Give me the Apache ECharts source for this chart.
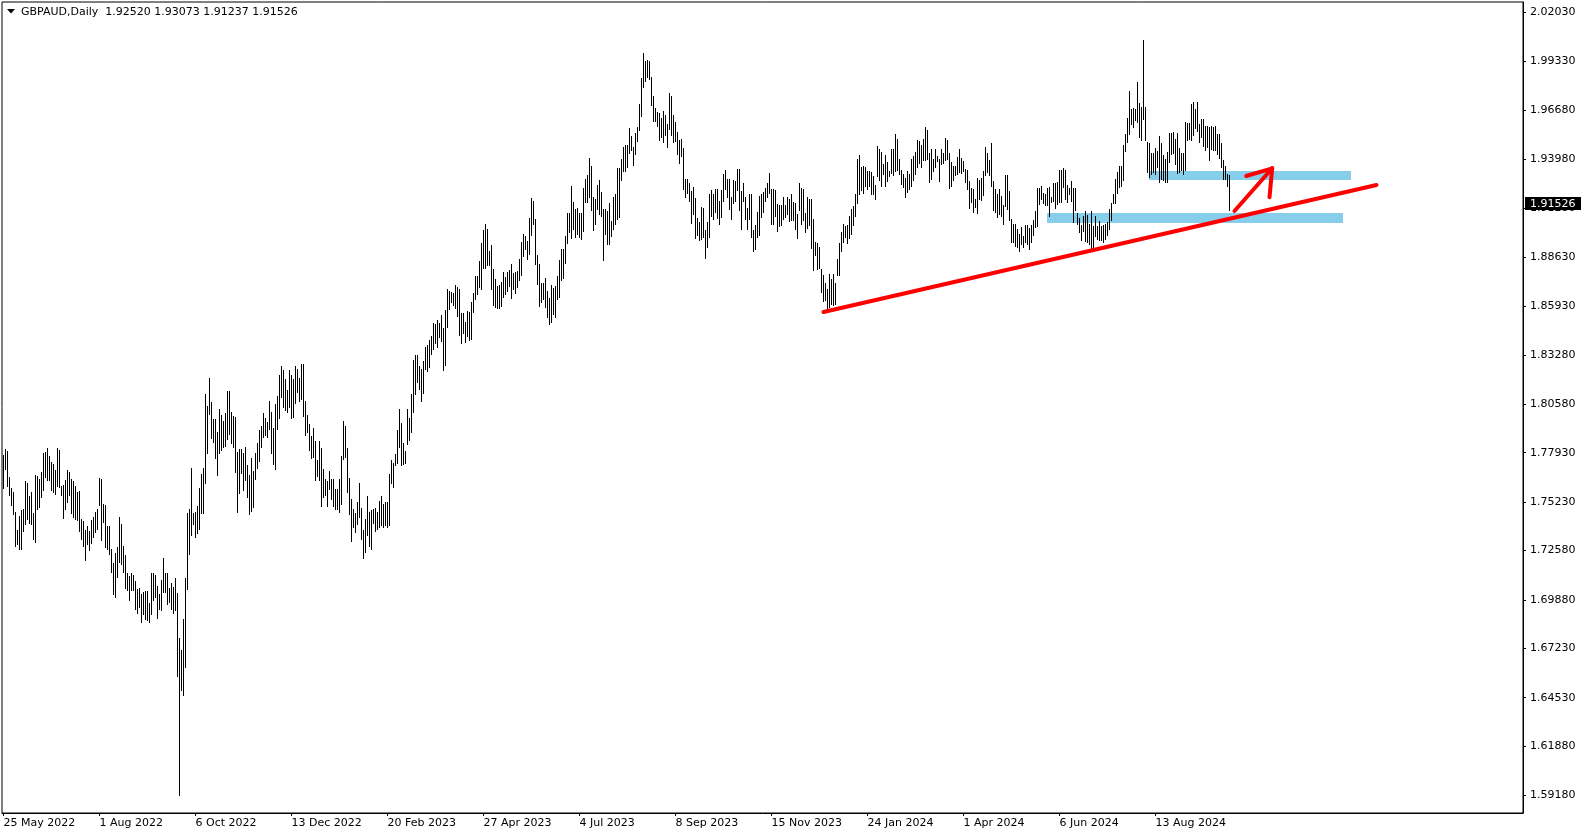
<!DOCTYPE html>
<html><head><meta charset="utf-8">
<script src="https://cdn.jsdelivr.net/npm/echarts@6/dist/echarts.min.js"></script>
<style>html,body{margin:0;padding:0;background:#fff}#c{width:1587px;height:838px}</style>
</head><body><div id="c"></div>
<script>
// ---------- data ----------
const symbolName = 'GBPAUD';
const timeframe = 'Daily';
const lastBar = [1.92520, 1.93073, 1.91237, 1.91526]; // open high low close of the latest bar

const dateTickBars = [0, 48, 96, 144, 192, 240, 288, 336, 384, 432, 480, 528, 576];
const dateTickLabels = ['25 May 2022', '1 Aug 2022', '6 Oct 2022', '13 Dec 2022', '20 Feb 2023', '27 Apr 2023',
  '4 Jul 2023', '8 Sep 2023', '15 Nov 2023', '24 Jan 2024', '1 Apr 2024', '6 Jun 2024', '13 Aug 2024'];
const priceTicks = [2.02030, 1.99330, 1.96680, 1.93980, 1.91280, 1.88630, 1.85930, 1.83280, 1.80580,
  1.77930, 1.75230, 1.72580, 1.69880, 1.67230, 1.64530, 1.61880, 1.59180];

// daily highs, bar 0 = 25 May 2022
const barHigh = [
1.7775,1.7808,1.7797,1.7657,1.7595,1.7575,1.7465,1.7367,1.7443,1.7476,
1.7480,1.7635,1.7622,1.7553,1.7575,1.7458,1.7666,1.7662,1.7647,1.7684,
1.7786,1.7793,1.7817,1.7771,1.7742,1.7726,1.7698,1.7817,1.7804,1.7607,
1.7611,1.7640,1.7695,1.7684,1.7647,1.7635,1.7607,1.7575,1.7580,1.7429,
1.7416,1.7370,1.7389,1.7361,1.7421,1.7440,1.7465,1.7480,1.7653,1.7644,
1.7507,1.7502,1.7389,1.7389,1.7261,1.7188,1.7239,1.7276,1.7438,1.7398,
1.7279,1.7228,1.7133,1.7115,1.7133,1.7124,1.7088,1.7046,1.7051,1.7015,
1.7028,1.7033,1.7033,1.6969,1.7133,1.7130,1.7119,1.7060,1.7015,1.7093,
1.7215,1.7133,1.7133,1.7051,1.7075,1.7057,1.7106,1.7024,1.6778,1.6709,
1.6878,1.7106,1.7461,1.7483,1.7708,1.7461,1.7465,1.7498,1.7595,1.7671,
1.7708,1.8109,1.8045,1.8200,1.8067,1.7976,1.7976,1.7903,1.8027,1.7999,
1.7966,1.8005,1.8130,1.8130,1.8012,1.7990,1.7986,1.7793,1.7811,1.7811,
1.7786,1.7822,1.7724,1.7666,1.7759,1.7689,1.7790,1.7841,1.7914,1.7935,
1.8005,1.7981,1.7957,1.8072,1.8012,1.7926,1.8054,1.8103,1.8213,1.8264,
1.8245,1.8194,1.8131,1.8240,1.8213,1.8194,1.8264,1.8249,1.8200,1.8278,
1.8273,1.8072,1.7999,1.7945,1.7881,1.7926,1.7853,1.7750,1.7853,1.7817,
1.7702,1.7647,1.7635,1.7689,1.7644,1.7644,1.7589,1.7589,1.7647,1.7771,
1.7966,1.7935,1.7817,1.7653,1.7538,1.7480,1.7461,1.7520,1.7626,1.7489,
1.7370,1.7425,1.7553,1.7467,1.7476,1.7483,1.7489,1.7465,1.7525,1.7556,
1.7507,1.7520,1.7520,1.7675,1.7753,1.7735,1.7784,1.7913,1.8030,1.7950,
1.7841,1.7799,1.8027,1.7981,1.8109,1.8300,1.8322,1.8322,1.8264,1.8246,
1.8291,1.8368,1.8377,1.8404,1.8428,1.8497,1.8492,1.8515,1.8497,1.8541,
1.8473,1.8570,1.8683,1.8674,1.8668,1.8665,1.8705,1.8698,1.8683,1.8555,
1.8552,1.8504,1.8568,1.8559,1.8614,1.8665,1.8756,1.8756,1.8838,1.8935,
1.9011,1.9039,1.9015,1.8893,1.8929,1.8796,1.8743,1.8701,1.8705,1.8723,
1.8778,1.8752,1.8778,1.8789,1.8825,1.8771,1.8778,1.8783,1.8847,1.8942,
1.8984,1.8975,1.8947,1.9075,1.9184,1.9166,1.9069,1.8874,1.8820,1.8720,
1.8720,1.8747,1.8674,1.8638,1.8705,1.8692,1.8701,1.8756,1.8844,1.8902,
1.8902,1.8975,1.9102,1.9102,1.9248,1.9163,1.9121,1.9130,1.9102,1.9099,
1.9239,1.9285,1.9307,1.9403,1.9361,1.9188,1.9179,1.9257,1.9281,1.9216,
1.9121,1.9121,1.9112,1.9157,1.9057,1.9188,1.9203,1.9349,1.9349,1.9394,
1.9463,1.9471,1.9476,1.9567,1.9522,1.9463,1.9540,1.9573,1.9700,1.9840,
1.9974,1.9932,1.9936,1.9932,1.9846,1.9740,1.9677,1.9653,1.9646,1.9622,
1.9658,1.9635,1.9586,1.9755,1.9744,1.9640,1.9598,1.9545,1.9503,1.9507,
1.9458,1.9288,1.9285,1.9263,1.9221,1.9245,1.9184,1.9075,1.9051,1.9135,
1.9130,1.9008,1.9051,1.9208,1.9226,1.9203,1.9230,1.9234,1.9166,1.9226,
1.9312,1.9334,1.9285,1.9285,1.9190,1.9281,1.9279,1.9343,1.9343,1.9221,
1.9266,1.9190,1.9130,1.9203,1.9206,1.9006,1.9033,1.9106,1.9194,1.9203,
1.9215,1.9239,1.9263,1.9321,1.9230,1.9230,1.9226,1.9148,1.9143,1.9143,
1.9190,1.9143,1.9190,1.9179,1.9203,1.9161,1.9157,1.9097,1.9266,1.9239,
1.9234,1.9102,1.9190,1.9179,1.9179,1.9070,1.8942,1.8938,1.8916,1.8796,
1.8760,1.8720,1.8687,1.8765,1.8738,1.8765,1.8716,1.8851,1.8935,1.8997,
1.9039,1.9029,1.9033,1.9084,1.9121,1.9139,1.9208,1.9398,1.9421,1.9354,
1.9358,1.9354,1.9330,1.9330,1.9325,1.9303,1.9257,1.9467,1.9452,1.9434,
1.9367,1.9421,1.9380,1.9330,1.9452,1.9449,1.9536,1.9507,1.9394,1.9339,
1.9312,1.9294,1.9330,1.9312,1.9394,1.9412,1.9434,1.9503,1.9494,1.9471,
1.9507,1.9573,1.9554,1.9427,1.9449,1.9398,1.9449,1.9412,1.9394,1.9449,
1.9427,1.9513,1.9503,1.9431,1.9381,1.9358,1.9361,1.9409,1.9452,1.9403,
1.9385,1.9343,1.9339,1.9276,1.9239,1.9234,1.9179,1.9294,1.9281,1.9294,
1.9330,1.9463,1.9431,1.9390,1.9485,1.9276,1.9234,1.9203,1.9230,1.9194,
1.9143,1.9307,1.9307,1.9221,1.9070,1.9039,1.9039,1.9015,1.8989,1.9026,
1.8975,1.9033,1.9033,1.9020,1.9033,1.9062,1.9112,1.9239,1.9239,1.9248,
1.9212,1.9203,1.9239,1.9245,1.9190,1.9263,1.9263,1.9270,1.9339,1.9336,
1.9349,1.9336,1.9252,1.9239,1.9276,1.9239,1.9239,1.9102,1.9075,1.9033,
1.9084,1.9112,1.9093,1.9039,1.9112,1.9030,1.9084,1.9030,1.9057,1.9030,
1.9033,1.9039,1.9051,1.9121,1.9154,1.9208,1.9285,1.9325,1.9358,1.9361,
1.9476,1.9531,1.9622,1.9768,1.9671,1.9677,1.9668,1.9817,1.9704,1.9682,
2.0045,1.9682,1.9489,1.9485,1.9431,1.9427,1.9458,1.9440,1.9525,1.9482,
1.9416,1.9398,1.9434,1.9540,1.9540,1.9544,1.9504,1.9540,1.9458,1.9431,
1.9427,1.9598,1.9591,1.9591,1.9700,1.9708,1.9671,1.9708,1.9586,1.9613,
1.9613,1.9576,1.9576,1.9573,1.9576,1.9573,1.9576,1.9536,1.9536,1.9485,
1.9391,1.9361,1.9312,1.93073
];

// daily lows, same bars
const barLow = [
1.7604,1.7708,1.7611,1.7562,1.7507,1.7461,1.7288,1.7297,1.7270,1.7270,
1.7370,1.7407,1.7434,1.7410,1.7407,1.7325,1.7307,1.7489,1.7498,1.7553,
1.7589,1.7662,1.7647,1.7644,1.7589,1.7580,1.7571,1.7611,1.7607,1.7562,
1.7438,1.7489,1.7525,1.7562,1.7465,1.7443,1.7434,1.7425,1.7370,1.7325,
1.7288,1.7210,1.7297,1.7261,1.7301,1.7334,1.7361,1.7379,1.7507,1.7316,
1.7416,1.7279,1.7270,1.7243,1.7142,1.7024,1.7009,1.7115,1.7197,1.7188,
1.7142,1.7057,1.7042,1.6988,1.7042,1.7046,1.6942,1.6918,1.6951,1.6869,
1.6915,1.6887,1.6878,1.6869,1.6915,1.6991,1.7006,1.6893,1.6942,1.6936,
1.7033,1.7033,1.6969,1.6978,1.6942,1.6920,1.6933,1.6577,1.5921,1.6495,
1.6472,1.6623,1.7051,1.7243,1.7348,1.7403,1.7334,1.7356,1.7379,1.7465,
1.7465,1.7629,1.7793,1.8008,1.7875,1.7853,1.7766,1.7675,1.7793,1.7811,
1.7826,1.7830,1.7872,1.7899,1.7848,1.7826,1.7689,1.7474,1.7574,1.7684,
1.7593,1.7647,1.7556,1.7458,1.7476,1.7498,1.7653,1.7711,1.7753,1.7826,
1.7881,1.7890,1.7881,1.7926,1.7793,1.7735,1.7708,1.7926,1.7987,1.8100,
1.8045,1.8027,1.8018,1.8045,1.7987,1.7990,1.8067,1.8127,1.8081,1.8090,
1.7999,1.7890,1.7908,1.7808,1.7768,1.7771,1.7644,1.7666,1.7644,1.7503,
1.7553,1.7567,1.7503,1.7598,1.7544,1.7503,1.7489,1.7489,1.7471,1.7516,
1.7762,1.7771,1.7580,1.7461,1.7312,1.7389,1.7361,1.7403,1.7443,1.7325,
1.7221,1.7252,1.7348,1.7283,1.7270,1.7410,1.7367,1.7379,1.7392,1.7398,
1.7392,1.7401,1.7392,1.7398,1.7629,1.7607,1.7731,1.7738,1.7826,1.7731,
1.7735,1.7740,1.7841,1.7866,1.7908,1.8018,1.8118,1.8182,1.8145,1.8081,
1.8123,1.8255,1.8242,1.8267,1.8337,1.8364,1.8395,1.8373,1.8431,1.8406,
1.8249,1.8273,1.8483,1.8583,1.8619,1.8606,1.8586,1.8541,1.8437,1.8397,
1.8452,1.8400,1.8433,1.8413,1.8419,1.8565,1.8637,1.8665,1.8701,1.8692,
1.8807,1.8807,1.8820,1.8820,1.8692,1.8606,1.8592,1.8588,1.8588,1.8596,
1.8650,1.8665,1.8678,1.8705,1.8641,1.8692,1.8668,1.8701,1.8738,1.8765,
1.8874,1.8911,1.8856,1.8884,1.8984,1.9048,1.8829,1.8720,1.8596,1.8619,
1.8638,1.8592,1.8537,1.8501,1.8510,1.8556,1.8537,1.8638,1.8650,1.8742,
1.8752,1.8833,1.8942,1.9002,1.8971,1.9020,1.8975,1.8993,1.8975,1.8966,
1.9011,1.9166,1.9166,1.9194,1.9121,1.9015,1.9048,1.9130,1.9102,1.9088,
1.8851,1.8993,1.8938,1.8935,1.8979,1.9020,1.9048,1.9075,1.9084,1.9288,
1.9339,1.9336,1.9361,1.9434,1.9453,1.9372,1.9431,1.9498,1.9560,1.9640,
1.9795,1.9828,1.9850,1.9841,1.9700,1.9609,1.9609,1.9580,1.9504,1.9525,
1.9494,1.9536,1.9467,1.9567,1.9535,1.9494,1.9500,1.9427,1.9380,1.9421,
1.9239,1.9197,1.9215,1.9175,1.9051,1.9099,1.8971,1.8984,1.8960,1.8966,
1.8978,1.8862,1.8920,1.8978,1.9093,1.9075,1.9112,1.9081,1.9044,1.9084,
1.9172,1.9239,1.9197,1.9130,1.9075,1.9161,1.9175,1.9234,1.9121,1.9020,
1.9172,1.9075,1.9020,1.9075,1.8978,1.8898,1.8911,1.8975,1.8984,1.9084,
1.9112,1.9175,1.9194,1.9215,1.9044,1.9044,1.9093,1.9011,1.9033,1.9039,
1.9075,1.9084,1.9102,1.9062,1.9066,1.9070,1.9020,1.8971,1.9121,1.9048,
1.9066,1.9002,1.9026,1.9039,1.8916,1.8796,1.8875,1.8802,1.8807,1.8674,
1.8625,1.8632,1.8588,1.8592,1.8607,1.8601,1.8610,1.8765,1.8765,1.8898,
1.8947,1.8978,1.8942,1.8971,1.8993,1.9039,1.9093,1.9161,1.9212,1.9234,
1.9215,1.9252,1.9239,1.9252,1.9212,1.9212,1.9184,1.9307,1.9285,1.9257,
1.9321,1.9257,1.9281,1.9307,1.9325,1.9312,1.9339,1.9343,1.9318,1.9266,
1.9248,1.9197,1.9221,1.9239,1.9257,1.9285,1.9321,1.9358,1.9380,1.9358,
1.9398,1.9394,1.9403,1.9276,1.9294,1.9336,1.9361,1.9390,1.9281,1.9376,
1.9380,1.9394,1.9403,1.9245,1.9257,1.9288,1.9312,1.9321,1.9330,1.9325,
1.9339,1.9276,1.9239,1.9135,1.9166,1.9112,1.9139,1.9106,1.9184,1.9179,
1.9203,1.9312,1.9330,1.9316,1.9257,1.9121,1.9112,1.9084,1.9102,1.9093,
1.9044,1.9143,1.9130,1.9070,1.8947,1.8947,1.8929,1.8920,1.8898,1.8935,
1.8920,1.8947,1.8938,1.8911,1.8947,1.8984,1.9029,1.9033,1.9157,1.9184,
1.9161,1.9148,1.9148,1.9093,1.9166,1.9175,1.9135,1.9157,1.9166,1.9166,
1.9248,1.9184,1.9166,1.9212,1.9175,1.9057,1.9121,1.9048,1.9002,1.8960,
1.9011,1.8953,1.8948,1.8938,1.8902,1.8911,1.8979,1.8966,1.8957,1.8957,
1.8948,1.8966,1.8984,1.9020,1.9070,1.9161,1.9161,1.9216,1.9248,1.9257,
1.9285,1.9445,1.9494,1.9540,1.9595,1.9576,1.9613,1.9604,1.9525,1.9507,
1.9622,1.9507,1.9330,1.9303,1.9321,1.9330,1.9321,1.9358,1.9276,1.9294,
1.9285,1.9276,1.9276,1.9385,1.9431,1.9434,1.9376,1.9325,1.9330,1.9343,
1.9321,1.9343,1.9504,1.9513,1.9504,1.9536,1.9573,1.9558,1.9494,1.9525,
1.9471,1.9453,1.9467,1.9398,1.9458,1.9453,1.9453,1.9431,1.9407,1.9358,
1.9294,1.9294,1.9257,1.91237
];

// drawn objects: [bar index, price]
const trendLine = [[410, 1.85626], [686.5, 1.92573]];
const zoneUpper = [[572.5, 1.93338], [673.5, 1.92846]];
const zoneLower = [[521.5, 1.91041], [669.5, 1.90511]];
const arrowLines = [
  [[615.5, 1.9115], [634.35, 1.93486]],
  [[621.35, 1.93065], [634.35, 1.93486]],
  [[634.35, 1.93486], [633, 1.9190]]
];

// ---------- chart ----------
const FONT = 'DejaVu Sans';
const chart = echarts.init(document.getElementById('c'), null, {renderer: 'canvas', width: 1587, height: 838});
const bars = barHigh.map((h, i) => [i, h, barLow[i]]);
const zones = [zoneUpper, zoneLower].map(z => [z[0][0], z[0][1], z[1][0], z[1][1]]);
const redSegs = [trendLine].concat(arrowLines).map(s => [s[0][0], s[0][1], s[1][0], s[1][1]]);
const titleText = symbolName + ',' + timeframe + '  ' + lastBar.map(v => v.toFixed(5)).join(' ');

chart.setOption({
  animation: false,
  backgroundColor: '#fff',
  textStyle: {fontFamily: FONT},
  grid: {left: 2, top: 2, right: 64, bottom: 25, show: true, borderColor: '#000', borderWidth: 1,
         backgroundColor: '#fff', containLabel: false, outerBoundsMode: 'none'},
  xAxis: {
    type: 'value', min: -0.75, max: 759.75,
    axisLine: {show: true, onZero: false, lineStyle: {color: '#000', width: 1}},
    splitLine: {show: false},
    axisTick: {show: true, length: 3, customValues: dateTickBars, lineStyle: {color: '#000'}},
    axisLabel: {customValues: dateTickBars, align: 'left', margin: 5, color: '#000', fontFamily: FONT, fontSize: 11,
      formatter: v => { const k = dateTickBars.indexOf(Math.round(v)); return k >= 0 ? dateTickLabels[k] : ''; }}
  },
  yAxis: {
    type: 'value', position: 'right', min: 1.58222, max: 2.02582,
    axisLine: {show: true, onZero: false, lineStyle: {color: '#000', width: 1}},
    splitLine: {show: false},
    axisTick: {show: true, length: 3, customValues: priceTicks, lineStyle: {color: '#000'}},
    axisLabel: {customValues: priceTicks, margin: 7, color: '#000', fontFamily: FONT, fontSize: 11,
      formatter: v => v.toFixed(5)}
  },
  graphic: [
    {type: 'polygon', shape: {points: [[7, 9], [15, 9], [11, 13.5]]}, style: {fill: '#000'}, z: 100},
    {type: 'text', x: 21, y: 12, z: 100,
     style: {text: titleText, fontFamily: FONT, fontSize: 11, fill: '#000', verticalAlign: 'middle'}}
  ],
  series: [
    {
      type: 'custom', name: 'zones', z: 1, silent: true,
      data: zones, encode: {x: [0, 2], y: [1, 3]},
      renderItem: (params, api) => {
        const a = api.coord([api.value(0), api.value(1)]);
        const b = api.coord([api.value(2), api.value(3)]);
        return {type: 'rect', shape: {x: Math.round(a[0]), y: Math.round(a[1]),
          width: Math.round(b[0] - a[0]), height: Math.round(b[1] - a[1])}, style: {fill: '#87CEEB'}};
      }
    },
    {
      type: 'custom', name: symbolName, z: 3, silent: true,
      data: bars, encode: {x: 0, y: [1, 2]},
      renderItem: (params, api) => {
        const i = api.value(0);
        const t = api.coord([i, api.value(1)]);
        const b = api.coord([i, api.value(2)]);
        const x = Math.floor(t[0]) + 0.5;
        return {type: 'line', shape: {x1: x, y1: Math.floor(t[1]), x2: x, y2: Math.ceil(b[1]) + 1},
          style: {stroke: '#000', lineWidth: 1}};
      }
    },
    {
      type: 'custom', name: 'drawings', z: 5, silent: true,
      data: redSegs, encode: {x: [0, 2], y: [1, 3]},
      renderItem: (params, api) => {
        const a = api.coord([api.value(0), api.value(1)]);
        const b = api.coord([api.value(2), api.value(3)]);
        return {type: 'line', shape: {x1: a[0], y1: a[1], x2: b[0], y2: b[1]},
          style: {stroke: '#FF0000', lineWidth: 4, lineCap: 'round'}};
      }
    },
    {
      type: 'custom', name: 'price', z: 20, silent: true, clip: false,
      data: [[barHigh.length - 1, lastBar[3]]], encode: {x: 0, y: 1},
      renderItem: (params, api) => {
        const p = api.coord([api.value(0), api.value(1)]);
        const x0 = params.coordSys.x + params.coordSys.width;
        const y = Math.round(p[1]);
        return {type: 'group', children: [
          {type: 'rect', shape: {x: x0 + 2, y: y - 7, width: 56, height: 13}, style: {fill: '#000'}},
          {type: 'text', x: x0 + 7, y: y, style: {text: lastBar[3].toFixed(5), fontFamily: FONT, fontSize: 11,
            fill: '#fff', verticalAlign: 'middle', align: 'left'}}
        ]};
      }
    }
  ]
});
</script>
</body></html>
